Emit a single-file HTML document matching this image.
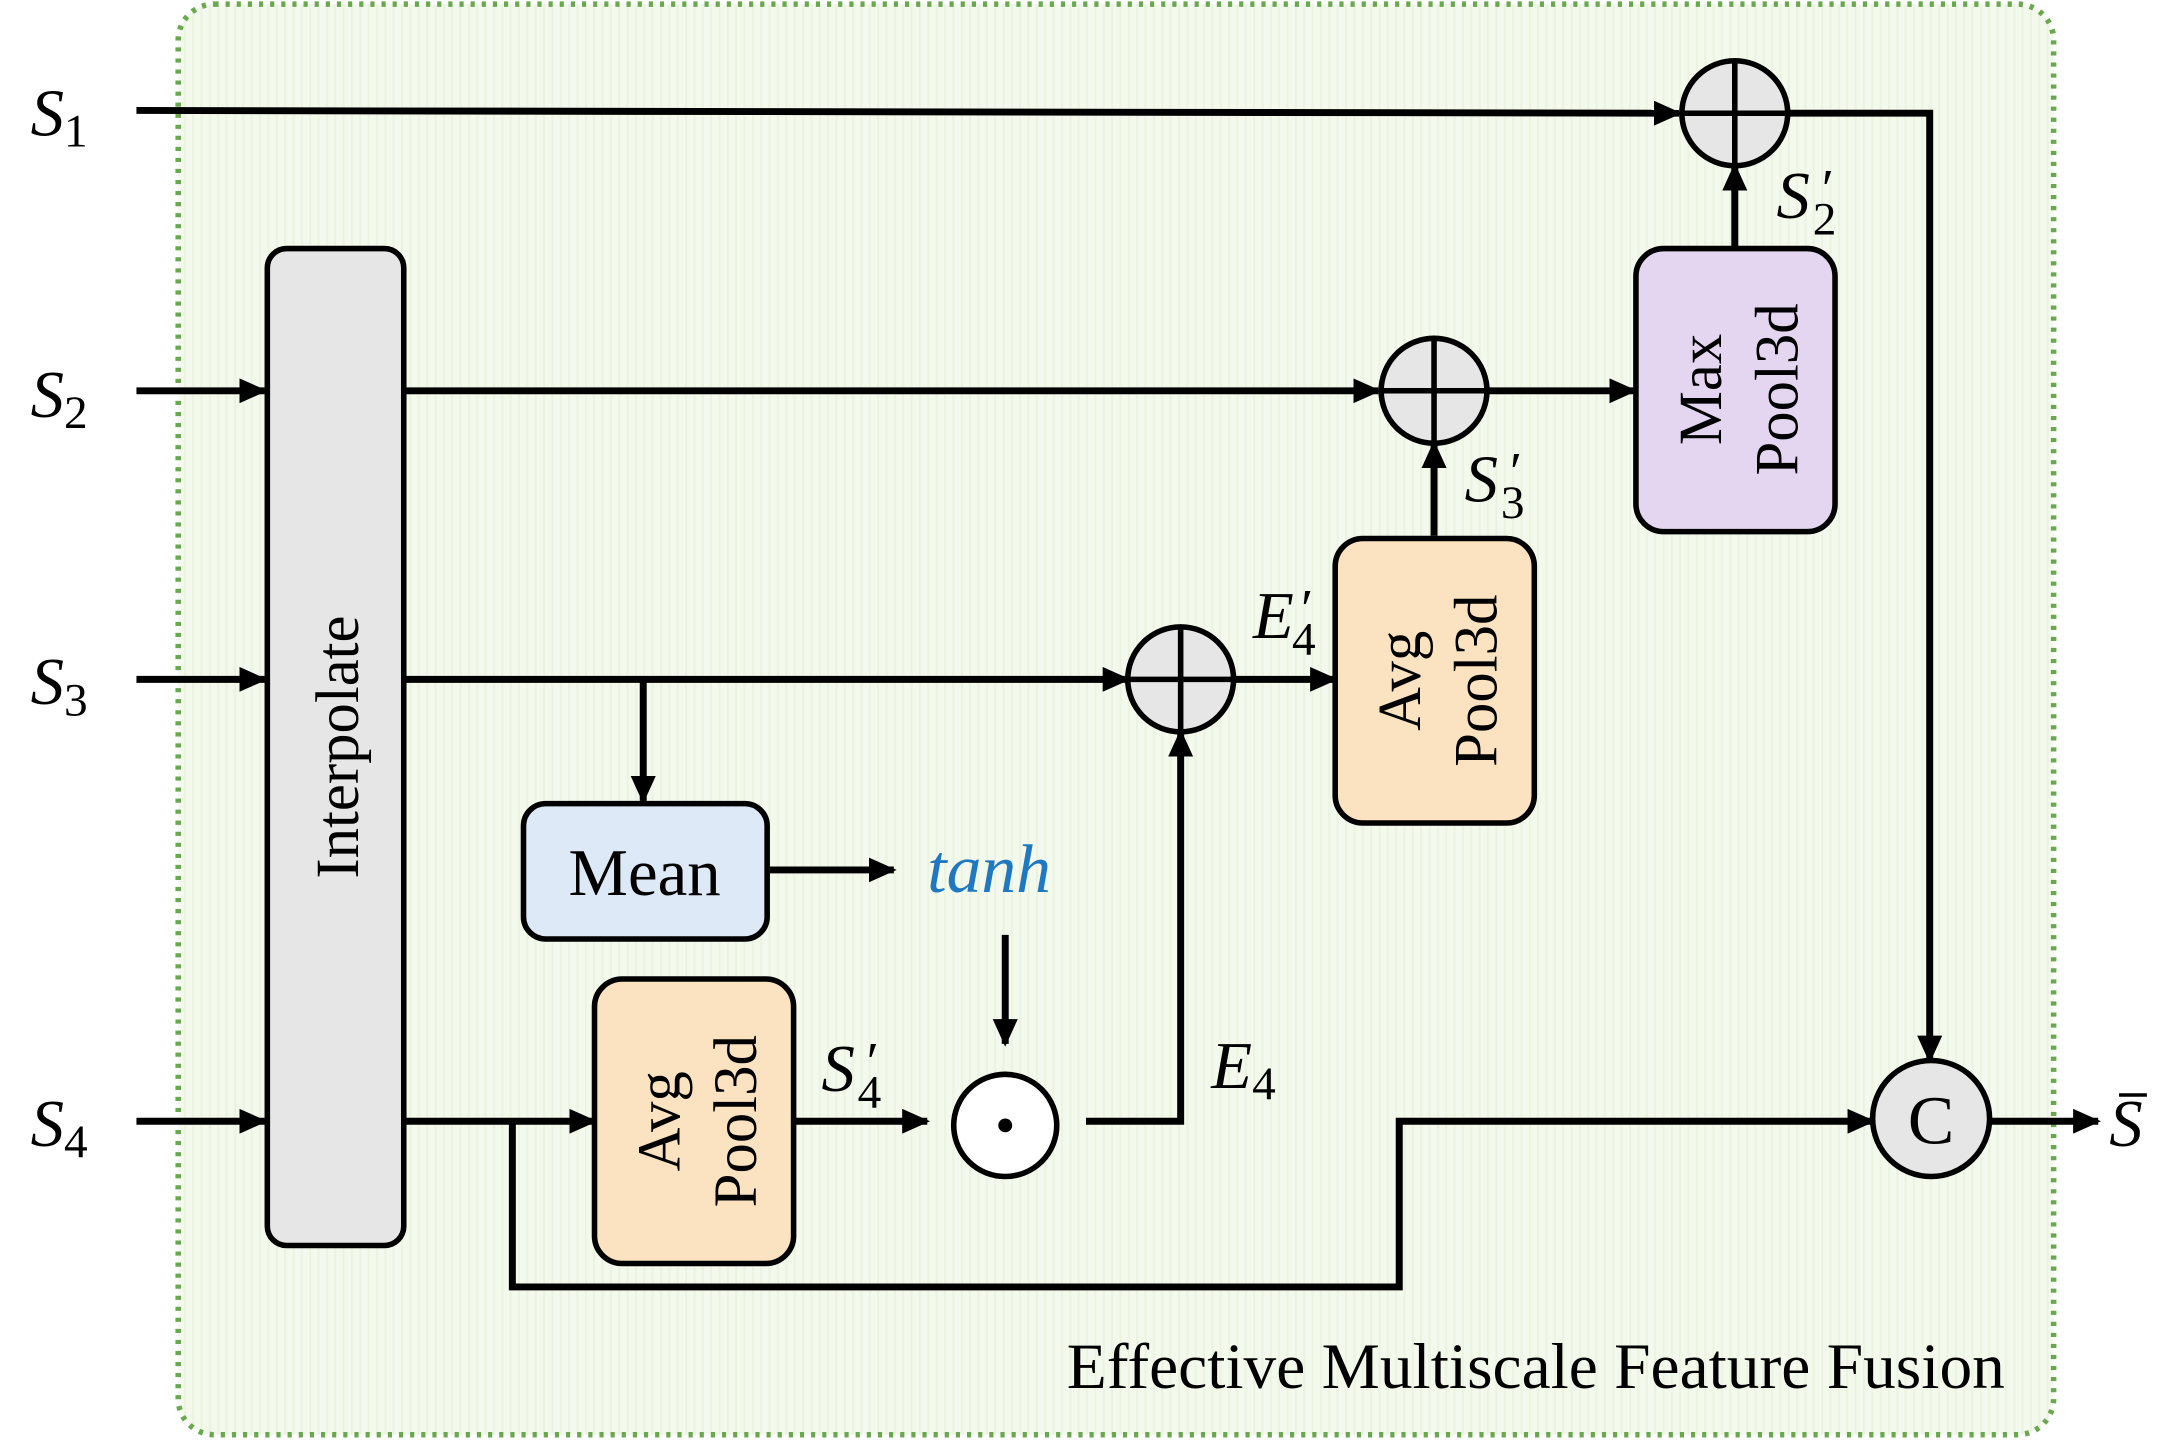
<!DOCTYPE html>
<html><head><meta charset="utf-8"><style>
html,body{margin:0;padding:0;background:#fff;}
svg{display:block;}
text{font-family:"Liberation Serif","DejaVu Serif",serif;}
</style></head><body>
<svg width="2165" height="1443" viewBox="0 0 1555 1045" preserveAspectRatio="none" xmlns="http://www.w3.org/2000/svg">
<defs>
<marker id="a" markerWidth="20" markerHeight="18" refX="18" refY="9" orient="auto" markerUnits="userSpaceOnUse" viewBox="0 0 20 18">
<path d="M0,0 L20,9 L0,18 z" fill="#000"/></marker>
<pattern id="st" width="6" height="6" patternUnits="userSpaceOnUse"><rect width="6" height="6" fill="#f4f9ee"/><rect width="1.5" height="6" fill="#eaf4df"/></pattern>
</defs>
<rect x="128" y="3" width="1347" height="1036" rx="26" fill="url(#st)" stroke="#6aa84f" stroke-width="4" stroke-dasharray="3,5"/>
<g stroke="#000" stroke-width="5" fill="none">
<path d="M98,80 L1206,82" marker-end="url(#a)"/>
<path d="M1284,82 L1386,82 L1386,768" marker-end="url(#a)"/>
<path d="M98,283 L190,283" marker-end="url(#a)"/>
<path d="M290,283 L990,283" marker-end="url(#a)"/>
<path d="M1068,283 L1174,283" marker-end="url(#a)"/>
<path d="M1246,180 L1246,120" marker-end="url(#a)"/>
<path d="M98,492 L190,492" marker-end="url(#a)"/>
<path d="M290,492 L810,492" marker-end="url(#a)"/>
<path d="M462,492 L462,580" marker-end="url(#a)"/>
<path d="M553,630 L642,630" marker-end="url(#a)"/>
<path d="M722,677 L722,756" marker-end="url(#a)"/>
<path d="M886,492 L959,492" marker-end="url(#a)"/>
<path d="M1030,388 L1030,321" marker-end="url(#a)"/>
<path d="M98,812 L190,812" marker-end="url(#a)"/>
<path d="M290,812 L427,812" marker-end="url(#a)"/>
<path d="M570,812 L666,812" marker-end="url(#a)"/>
<path d="M780,812 L848,812 L848,530" marker-end="url(#a)"/>
<path d="M368,812 L368,932 L1005,932 L1005,812 L1345,812" marker-end="url(#a)"/>
<path d="M1430,812 L1507,812" marker-end="url(#a)"/>
</g>
<rect x="192" y="180" width="98" height="722" rx="14" fill="#e6e6e6" stroke="#000" stroke-width="4"/>
<rect x="1175" y="180" width="143" height="205" rx="20" fill="#e4d6f1" stroke="#000" stroke-width="4"/>
<rect x="959" y="390" width="143" height="206" rx="20" fill="#fbe3c1" stroke="#000" stroke-width="4"/>
<rect x="427" y="709" width="143" height="206" rx="20" fill="#fbe3c1" stroke="#000" stroke-width="4"/>
<rect x="376" y="582" width="175" height="98" rx="16" fill="#dde9f7" stroke="#000" stroke-width="4"/>
<g stroke="#000" stroke-width="4">
<circle cx="1246" cy="82" r="38" fill="#e6e6e6"/>
<circle cx="1030" cy="283" r="38" fill="#e6e6e6"/>
<circle cx="848" cy="492" r="38" fill="#e6e6e6"/>
<circle cx="1387" cy="810" r="42" fill="#e6e6e6"/>
<circle cx="722" cy="815" r="37" fill="#fff"/>
<path d="M1208,82 H1284 M1246,44 V120 M992,283 H1068 M1030,245 V321 M810,492 H886 M848,454 V530" fill="none"/>
</g>
<circle cx="722" cy="815" r="5" fill="#000"/>
<text x="1387" y="828" font-size="50" text-anchor="middle">C</text>
<text transform="translate(257,541) rotate(-90)" font-size="44" text-anchor="middle">Interpolate</text>
<text x="463" y="648" font-size="48" text-anchor="middle">Mean</text>
<text transform="translate(1236,282) rotate(-90)" font-size="44" text-anchor="middle">Max</text>
<text transform="translate(1291,282) rotate(-90)" font-size="44" text-anchor="middle">Pool3d</text>
<text transform="translate(1020,493) rotate(-90)" font-size="44" text-anchor="middle">Avg</text>
<text transform="translate(1075,493) rotate(-90)" font-size="44" text-anchor="middle">Pool3d</text>
<text transform="translate(488,812) rotate(-90)" font-size="44" text-anchor="middle">Avg</text>
<text transform="translate(543,812) rotate(-90)" font-size="44" text-anchor="middle">Pool3d</text>
<text x="666" y="646" font-size="50" font-style="italic" fill="#1f78c0">tanh</text>
<g font-size="48" font-style="italic">
<text x="22" y="98">S<tspan font-style="normal" font-size="34" dy="8">1</tspan></text>
<text x="22" y="302">S<tspan font-style="normal" font-size="34" dy="8">2</tspan></text>
<text x="22" y="510">S<tspan font-style="normal" font-size="34" dy="8">3</tspan></text>
<text x="22" y="830">S<tspan font-style="normal" font-size="34" dy="8">4</tspan></text>
<text x="1276" y="158">S</text><text x="1306" y="150" font-size="40">′</text><text x="1302" y="170" font-size="34" font-style="normal">2</text>
<text x="1052" y="363">S</text><text x="1082" y="355" font-size="40">′</text><text x="1078" y="375" font-size="34" font-style="normal">3</text>
<text x="900" y="462">E</text><text x="932" y="454" font-size="40">′</text><text x="928" y="474" font-size="34" font-style="normal">4</text>
<text x="590" y="790">S</text><text x="620" y="782" font-size="40">′</text><text x="616" y="802" font-size="34" font-style="normal">4</text>
<text x="870" y="788">E<tspan font-style="normal" font-size="34" dy="8">4</tspan></text>
<text x="1515" y="830">S</text>
</g>
<path d="M1522,793 H1542" stroke="#000" stroke-width="2.5"/>
<text x="1440" y="1005" font-size="47" text-anchor="end">Effective Multiscale Feature Fusion</text>
</svg>
</body></html>
